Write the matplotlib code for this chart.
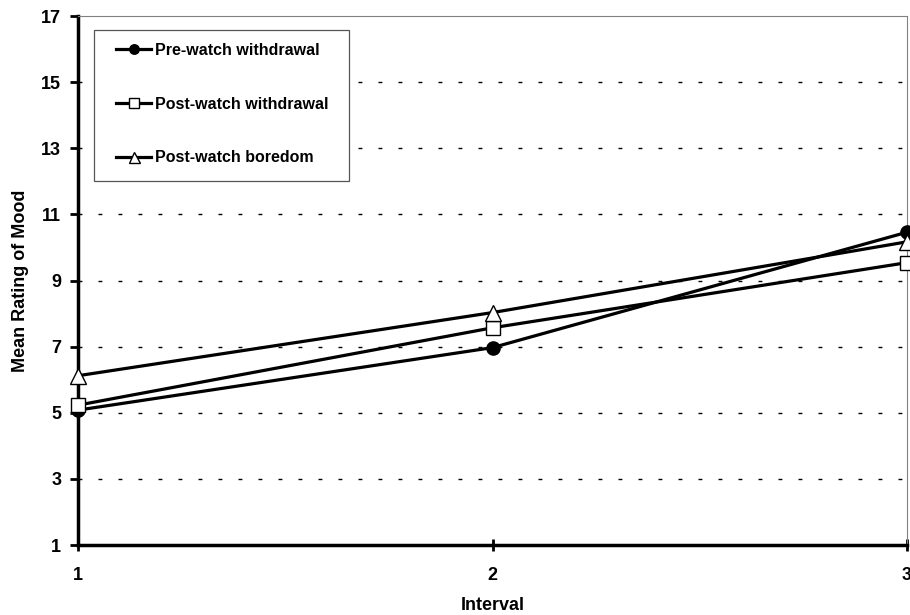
import matplotlib
matplotlib.use("Agg")
import matplotlib.pyplot as plt
from matplotlib.patches import Rectangle

plt.rcParams['font.family'] = ['Liberation Sans', 'DejaVu Sans']

intervals = [1, 2, 3]
pre_withdrawal = [5.08, 6.97, 10.46]
post_withdrawal = [5.23, 7.57, 9.54]
post_boredom = [6.12, 8.03, 10.17]
yticks = [1, 3, 5, 7, 9, 11, 13, 15, 17]

W, H = 910, 615
fig = plt.figure(figsize=(W / 100, H / 100), dpi=100)
ax_l, ax_r, ax_t, ax_b = 78, 907, 16, 545
ax = fig.add_axes([ax_l / W, 1 - ax_b / H, (ax_r - ax_l) / W, (ax_b - ax_t) / H])

for y in yticks[1:-1]:
    ax.axhline(y, color='black', lw=1.0, ls=(0, (2.8, 11.6)), zorder=0)

ax.plot(intervals, pre_withdrawal, color='black', lw=2.3, marker='o', ms=9.5,
        mfc='black', mec='black', label='Pre-watch withdrawal', clip_on=False, zorder=3)
ax.plot(intervals, post_withdrawal, color='black', lw=2.3, marker='s', ms=10,
        mfc='white', mec='black', mew=1.0, label='Post-watch withdrawal', clip_on=False, zorder=3)
ax.plot(intervals, post_boredom, color='black', lw=2.3, marker='^', ms=11,
        mfc='white', mec='black', mew=1.0, label='Post-watch boredom', clip_on=False, zorder=3)

ax.set_xlim(1, 3)
ax.set_ylim(1, 17)
ax.set_xticks(intervals)
ax.set_yticks(yticks)
for lab in ax.get_xticklabels() + ax.get_yticklabels():
    lab.set_fontweight('bold')
    lab.set_fontsize(13)

ax.tick_params(axis='y', direction='out', length=6, width=2, pad=6)
ax.tick_params(axis='x', direction='inout', length=9, width=2, pad=11)

ax.spines['left'].set_linewidth(2.5)
ax.spines['bottom'].set_linewidth(2.5)
ax.spines['right'].set_color('#808080')
ax.spines['right'].set_linewidth(0.8)
ax.spines['top'].set_color('#808080')
ax.spines['top'].set_linewidth(0.8)

ax.set_ylabel('Mean Rating of Mood', fontweight='bold', fontsize=13, labelpad=9)
ax.set_xlabel('Interval', fontweight='bold', fontsize=13, labelpad=10)

def px2ax(x, y):
    return (x - ax_l) / (ax_r - ax_l), (ax_b - y) / (ax_b - ax_t)

fx0, fy1 = px2ax(94, 181)
fx1, fy0 = px2ax(349, 30)
ax.add_patch(Rectangle((fx0, fy1), fx1 - fx0, fy0 - fy1, transform=ax.transAxes,
                       fill=True, facecolor='white', edgecolor='#555555', lw=0.9,
                       zorder=4, clip_on=False))

lx, ly = px2ax(116, 43)
leg = ax.legend(loc='upper left', bbox_to_anchor=(lx, ly),
                prop={'weight': 'bold', 'size': 11.5}, frameon=False,
                labelspacing=2.42, handlelength=2.2, handletextpad=0.25,
                borderpad=0, borderaxespad=0)
leg.set_zorder(5)
for h in leg.legend_handles:
    h.set_markersize(h.get_markersize() * 0.72)

fig.savefig('out.png', dpi=100)
